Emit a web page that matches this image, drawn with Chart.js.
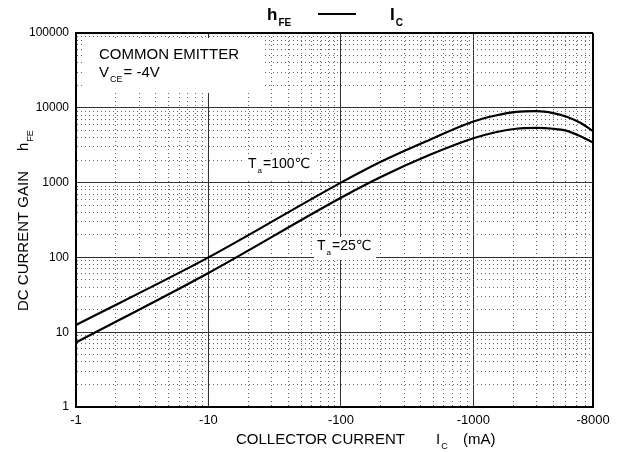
<!DOCTYPE html>
<html>
<head>
<meta charset="utf-8">
<script src="https://cdn.jsdelivr.net/npm/chart.js@4.4.0/dist/chart.umd.min.js"></script>
<style>
  html, body { margin: 0; padding: 0; background: #fff; }
  #wrap { width: 626px; height: 452px; }
</style>
</head>
<body>
<div id="wrap"><canvas id="hfe" width="626" height="452"></canvas></div>
<script>
// collector current magnitude (mA) and DC current gain
const ic100 = [1, 10, 100, 200, 470, 1000, 1500, 2100, 3000, 4000, 5000, 6370, 8000];
const hfe100 = [12.5, 100, 1000, 1900, 3750, 6550, 7950, 8800, 9000, 8500, 7650, 6350, 4900];
const ic25 = [1, 10, 100, 200, 470, 1000, 1500, 2100, 3000, 4000, 5000, 6370, 8000];
const hfe25 = [7.3, 62, 628, 1190, 2350, 3910, 4750, 5250, 5380, 5250, 4950, 4200, 3430];

// tick positions / labels
const xTicks = [1, 2, 3, 4, 5, 6, 7, 8, 9, 10, 20, 30, 40, 50, 60, 70, 80, 90,
  100, 200, 300, 400, 500, 600, 700, 800, 900, 1000, 2000, 3000, 4000, 5000, 6000, 7000, 8000];
const xLabels = [1, 10, 100, 1000, 8000];
const yTicks = [];
for (let d = 1; d < 100000; d *= 10) {
  for (let m = 1; m < 10; m++) yTicks.push(m * d);
}
yTicks.push(100000);
const yLabels = [1, 10, 100, 1000, 10000, 100000];

const FONT = "'Liberation Sans', Arial, 'DejaVu Sans', sans-serif";

const isDecade = (v) => Math.abs(Math.log10(v) - Math.round(Math.log10(v))) < 1e-9;

function gridColor(ctx, max) {
  if (!ctx.tick) return '#000';
  const v = ctx.tick.value;
  if (v === max || v === 1) return '#000';
  return isDecade(v) ? '#333' : '#666';
}
function gridWidth(ctx, max) {
  if (!ctx.tick) return 1;
  return ctx.tick.value === max ? 2 : 1;
}
function gridDash(max) {
  return (ctx) => {
    if (!ctx.tick) return [];
    const v = ctx.tick.value;
    return isDecade(v) || v === max ? [] : [1, 3];
  };
}

function sub(ctx, main, subTxt, x, y, size, bold) {
  const w = bold ? 'bold ' : '';
  ctx.font = w + size + 'px ' + FONT;
  ctx.fillText(main, x, y);
  const mw = ctx.measureText(main).width;
  ctx.font = w + Math.round(size * 0.6) + 'px ' + FONT;
  ctx.fillText(subTxt, x + mw + 1, y + size * 0.35);
  return x + mw + 1 + ctx.measureText(subTxt).width;
}

const whiteBoxes = {
  id: 'whiteBoxes',
  beforeDatasetsDraw(chart) {
    const c = chart.ctx;
    c.save();
    c.fillStyle = '#fff';
    c.fillRect(84, 38, 180, 55);
    c.fillRect(245, 155, 72, 24);
    c.fillRect(314, 237, 62, 23);
    c.restore();
  }
};

const labels = {
  id: 'labels',
  afterDraw(chart) {
    const c = chart.ctx;
    c.save();
    c.fillStyle = '#000';
    c.textBaseline = 'alphabetic';
    c.textAlign = 'left';

    // title
    sub(c, 'h', 'FE', 267, 20, 17, true);
    c.strokeStyle = '#000';
    c.lineWidth = 2;
    c.beginPath();
    c.moveTo(318, 14);
    c.lineTo(356, 14);
    c.stroke();
    sub(c, 'I', 'C', 390, 20, 17, true);

    // annotations
    c.font = '15px ' + FONT;
    c.fillText('COMMON EMITTER', 99, 59);
    let x = sub(c, 'V', 'CE', 99, 77, 15);
    c.font = '15px ' + FONT;
    c.fillText('= -4V', x + 1, 77);

    x = sub(c, 'T', 'a', 248, 168, 14);
    c.font = '14px ' + FONT;
    c.fillText('=100\u2103', x + 1, 168);

    x = sub(c, 'T', 'a', 317, 250, 14);
    c.font = '14px ' + FONT;
    c.fillText('=25\u2103', x + 1, 250);

    // x axis title
    c.font = '15px ' + FONT;
    c.fillText('COLLECTOR CURRENT', 236, 444);
    sub(c, 'I', 'C', 436, 444, 15);
    c.font = '15px ' + FONT;
    c.fillText('(mA)', 463, 444);

    // y axis title
    c.translate(28, 311);
    c.rotate(-Math.PI / 2);
    c.font = '15px ' + FONT;
    c.fillText('DC CURRENT GAIN', 0, 0);
    sub(c, 'h', 'FE', 160, 0, 15);
    c.restore();
  }
};

new Chart(document.getElementById('hfe'), {
  type: 'line',
  data: {
    datasets: [
      {
        label: 'Ta=100',
        data: ic100.map((v, i) => ({ x: v, y: hfe100[i] })),
        borderColor: '#000',
        borderWidth: 2.2,
        pointRadius: 0,
        cubicInterpolationMode: 'monotone',
        fill: false
      },
      {
        label: 'Ta=25',
        data: ic25.map((v, i) => ({ x: v, y: hfe25[i] })),
        borderColor: '#000',
        borderWidth: 2.2,
        pointRadius: 0,
        cubicInterpolationMode: 'monotone',
        fill: false
      }
    ]
  },
  options: {
    responsive: false,
    animation: false,
    layout: { padding: { left: 0, right: 33, top: 33, bottom: 0 } },
    plugins: {
      legend: { display: false },
      tooltip: { enabled: false },
      title: { display: false }
    },
    scales: {
      x: {
        type: 'logarithmic',
        min: 1,
        max: 8000,
        afterBuildTicks: (scale) => { scale.ticks = xTicks.map((v) => ({ value: v })); },
        afterFit: (scale) => { scale.height = 45; },
        ticks: {
          autoSkip: false,
          maxRotation: 0,
          padding: 6,
          color: '#000',
          font: { family: FONT, size: 13 },
          callback: (v) => (xLabels.includes(v) ? '-' + v : '')
        },
        grid: {
          drawTicks: false,
          color: (ctx) => gridColor(ctx, 8000),
          lineWidth: (ctx) => gridWidth(ctx, 8000)
        },
        border: { display: true, color: '#000', width: 2, dash: gridDash(8000) }
      },
      y: {
        type: 'logarithmic',
        min: 1,
        max: 100000,
        afterBuildTicks: (scale) => { scale.ticks = yTicks.map((v) => ({ value: v })); },
        afterFit: (scale) => { scale.width = 76; },
        ticks: {
          autoSkip: false,
          padding: 7,
          color: '#000',
          font: { family: FONT, size: 12 },
          callback: (v) => (yLabels.includes(v) ? String(v) : '')
        },
        grid: {
          drawTicks: false,
          color: (ctx) => gridColor(ctx, 100000),
          lineWidth: (ctx) => gridWidth(ctx, 100000)
        },
        border: { display: true, color: '#000', width: 2, dash: gridDash(100000) }
      }
    }
  },
  plugins: [whiteBoxes, labels]
});
</script>
</body>
</html>
